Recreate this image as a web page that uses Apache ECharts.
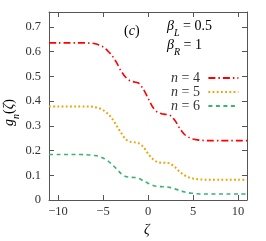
<!DOCTYPE html>
<html><head><meta charset="utf-8">
<script src="https://cdn.jsdelivr.net/npm/echarts@6/dist/echarts.min.js"></script>
<style>html,body{margin:0;padding:0;background:#fff}#c{width:266px;height:241px}</style>
</head><body><div id="c"></div>
<script>
const zeta = [-11,-10,-9,-8,-7,-6.5,-6,-5.5,-5,-4.5,-4,-3.5,-3,-2.5,-2,-1.5,-1,-0.5,0,0.5,1,1.5,2,2.5,3,3.5,4,4.5,5,5.5,6,6.5,7,8,9,10,11];
const g4 = [0.635,0.635,0.635,0.635,0.635,0.634,0.633,0.628,0.619,0.604,0.584,0.556,0.522,0.497,0.482,0.477,0.471,0.447,0.412,0.377,0.356,0.349,0.346,0.341,0.321,0.291,0.267,0.254,0.247,0.243,0.241,0.240,0.240,0.240,0.240,0.240,0.240];
const g5 = [0.378,0.378,0.378,0.378,0.378,0.378,0.376,0.372,0.364,0.350,0.330,0.301,0.272,0.246,0.236,0.233,0.229,0.214,0.188,0.167,0.154,0.151,0.151,0.146,0.133,0.115,0.101,0.092,0.087,0.084,0.083,0.082,0.082,0.082,0.082,0.082,0.082];
const g6 = [0.184,0.184,0.184,0.184,0.183,0.182,0.180,0.177,0.170,0.159,0.144,0.126,0.107,0.095,0.092,0.091,0.087,0.077,0.068,0.060,0.055,0.054,0.053,0.050,0.045,0.039,0.033,0.029,0.027,0.025,0.024,0.024,0.024,0.024,0.024,0.024,0.024];
const seriesNames = ['n = 4','n = 5','n = 6'];
const xTicks = [-10,-5,0,5,10];
const yTicks = [0,0.1,0.2,0.3,0.4,0.5,0.6,0.7];

const FONT = "'Liberation Serif', 'DejaVu Serif', serif";
const AX = '#555';
const chart = echarts.init(document.getElementById('c'), null, {renderer:'canvas'});
const pairs = arr => zeta.map((z,i)=>[z,arr[i]]);
function xAxisDef(pos, labels){
  return {type:'value', position:pos, min:-11, max:11,
    axisLine:{show:true, onZero:false, lineStyle:{color:AX,width:1}},
    axisTick:{show:true, inside:true, length:5, customValues:xTicks, lineStyle:{color:AX}},
    axisLabel:{show:labels, customValues:xTicks, margin:5, color:'#333', fontFamily:FONT, fontSize:12.5,
      formatter:v=>String(v).replace('-','\u2212')},
    splitLine:{show:false}};
}
function yAxisDef(pos, labels){
  return {type:'value', position:pos, min:0, max:0.76,
    axisLine:{show:true, onZero:false, lineStyle:{color:AX,width:1}},
    axisTick:{show:true, inside:true, length:5, customValues:yTicks, lineStyle:{color:AX}},
    axisLabel:{show:labels, customValues:yTicks, margin:8, color:'#333', fontFamily:FONT, fontSize:12.5,
      formatter:v=>v===0?'0':v.toFixed(1)},
    splitLine:{show:false}};
}
const styles = [
  {color:'#ff0000', type:[7,3,1.5,3], width:1.6},
  {color:'#f0a000', type:[1.8,2.4], width:2},
  {color:'#3cb371', type:[4,3.5], width:1.6}
];
const dataSets = [g4,g5,g6];
const rich = {
  i:{fontFamily:FONT, fontStyle:'italic', fontSize:14, color:'#333'},
  r:{fontFamily:FONT, fontSize:14, color:'#333'},
  s:{fontFamily:FONT, fontStyle:'italic', fontSize:10, color:'#333', verticalAlign:'bottom', padding:[0,0,-5,0]}
};
chart.setOption({
  animation:false,
  grid:{left:49, right:19, top:12, bottom:41},
  xAxis:[xAxisDef('bottom',true), xAxisDef('top',false)],
  yAxis:[yAxisDef('left',true), yAxisDef('right',false)],
  legend:{
    orient:'vertical', left:166, top:66, align:'right',
    itemWidth:30, itemHeight:14, itemGap:0,
    data:seriesNames,
    itemStyle:{opacity:0},
    textStyle:{fontFamily:FONT, fontSize:14, color:'#333', lineHeight:14, rich:rich},
    formatter:name=>'{i|n}{r|' + name.slice(1) + ' }'
  },
  series: dataSets.map((d,k)=>({
    name:seriesNames[k], type:'line', data:pairs(d), smooth:0.3,
    showSymbol:false, symbol:'none', lineStyle:styles[k], itemStyle:{color:styles[k].color}
  })),
  graphic:[
    {type:'text', left:124, top:24, style:{text:'{r|(}{i|c}{r|)}', rich:rich}},
    {type:'text', left:167, top:19, style:{text:'{i|β}{s|L}{r| = 0.5}', rich:rich}},
    {type:'text', left:167, top:38, style:{text:'{i|β}{s|R}{r| = 1}', rich:rich}},
    {type:'text', x:2, y:126, rotation:Math.PI/2, style:{text:'{i|g}{s|n}{r|(}{i|ζ}{r|)}', rich:rich}},
    {type:'text', left:144, top:223, style:{text:'{i|ζ}', rich:rich}}
  ]
});
</script></body></html>
